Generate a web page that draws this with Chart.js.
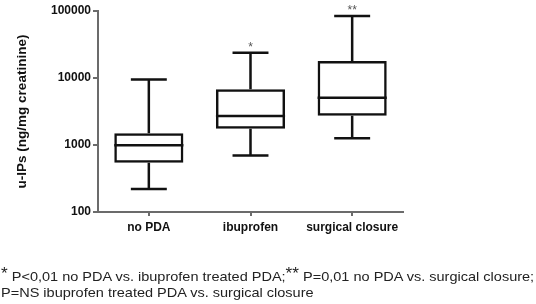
<!DOCTYPE html>
<html>
<head>
<meta charset="utf-8">
<script src="https://cdn.jsdelivr.net/npm/chart.js@4.4.1/dist/chart.umd.min.js"></script>
<style>
    body { margin: 0; background: #fff; }
    #wrap { position: relative; width: 536px; height: 304px; overflow: hidden; }
    #note {
        position: absolute; left: 1px; top: 268px; width: 540px;
        font-family: 'Liberation Sans', Arial, sans-serif; font-size: 13.5px;
        line-height: 16px; color: #222; white-space: nowrap;
        transform: scaleX(1.075); transform-origin: left top;
    }
    #note .star { font-size: 16px; position: relative; top: -2px; }
</style>
</head>
<body>
<div id="wrap">
    <canvas id="boxChart"></canvas>
    <div id="note"><span class="star">*</span> P&lt;0,01 no PDA vs. ibuprofen treated PDA;<span class="star">**</span> P=0,01 no PDA vs. surgical closure;<br>P=NS ibuprofen treated PDA vs. surgical closure</div>
</div>
<script>
const categories = ['no PDA', 'ibuprofen', 'surgical closure'];
const whiskerMin = [220, 700, 1260];
const q1Values = [545, 1750, 2740];
const medianValues = [990, 2710, 5080];
const q3Values = [1500, 6780, 17900];
const whiskerMax = [9500, 23900, 84000];
const significance = ['', '*', '**'];
const yTicks = [100, 1000, 10000, 100000];

const fontFamily = "'Liberation Sans', Arial, sans-serif";
const axisColor = '#6b6b6b';
const boxColor = '#111';

// whiskers, median and significance stars, drawn from the chart's own scales
const boxExtras = {
    id: 'boxExtras',
    afterDatasetsDraw(chart) {
        const { ctx, scales: { x, y } } = chart;
        const meta = chart.getDatasetMeta(0);
        ctx.save();
        ctx.strokeStyle = boxColor;
        ctx.lineWidth = 2.5;
        meta.data.forEach((bar, i) => {
            const cx = x.getPixelForValue(i);
            const half = bar.width / 2;
            const cap = bar.width * 0.26;
            const yMin = y.getPixelForValue(whiskerMin[i]);
            const yQ1 = y.getPixelForValue(q1Values[i]);
            const yMed = y.getPixelForValue(medianValues[i]);
            const yQ3 = y.getPixelForValue(q3Values[i]);
            const yMax = y.getPixelForValue(whiskerMax[i]);
            ctx.beginPath();
            ctx.moveTo(cx - half, yMed); ctx.lineTo(cx + half, yMed);
            ctx.moveTo(cx, yQ3); ctx.lineTo(cx, yMax);
            ctx.moveTo(cx - cap, yMax); ctx.lineTo(cx + cap, yMax);
            ctx.moveTo(cx, yQ1); ctx.lineTo(cx, yMin);
            ctx.moveTo(cx - cap, yMin); ctx.lineTo(cx + cap, yMin);
            ctx.stroke();
            if (significance[i]) {
                ctx.fillStyle = '#555';
                ctx.font = '12px ' + fontFamily;
                ctx.textAlign = 'center';
                ctx.textBaseline = 'alphabetic';
                ctx.fillText(significance[i], cx, yMax - 2);
            }
        });
        ctx.restore();
    }
};

new Chart(document.getElementById('boxChart'), {
    type: 'bar',
    data: {
        labels: categories,
        datasets: [{
            data: q1Values.map((q1, i) => [q1, q3Values[i]]),
            backgroundColor: 'rgba(255,255,255,0)',
            borderColor: boxColor,
            borderWidth: 2.5,
            borderSkipped: false,
            categoryPercentage: 1,
            barPercentage: 0.68
        }]
    },
    options: {
        responsive: true,
        maintainAspectRatio: false,
        animation: false,
        layout: { padding: { left: 0, right: 133, top: 11, bottom: 0 } },
        plugins: { legend: { display: false }, tooltip: { enabled: false } },
        scales: {
            x: {
                type: 'category',
                grid: { offset: false, drawOnChartArea: false, drawTicks: true, tickLength: 4, color: axisColor, lineWidth: 2 },
                border: { color: axisColor, width: 2 },
                ticks: { color: '#111', padding: 4, font: { family: fontFamily, size: 12, weight: 'bold' } },
                afterFit: s => { s.height = 92; }
            },
            y: {
                type: 'logarithmic',
                min: 100,
                max: 100000,
                afterBuildTicks: s => { s.ticks = yTicks.map(v => ({ value: v })); },
                grid: { drawOnChartArea: false, drawTicks: true, tickLength: 5, color: axisColor, lineWidth: 2 },
                border: { color: axisColor, width: 2 },
                ticks: {
                    color: '#111', padding: 2,
                    font: { family: fontFamily, size: 12, weight: 'bold' },
                    callback: v => String(v)
                },
                title: {
                    display: true,
                    text: 'u-IPs (ng/mg creatinine)',
                    color: '#111',
                    padding: { top: 14, bottom: 0 },
                    font: { family: fontFamily, size: 13.5, weight: 'bold' }
                },
                afterFit: s => { s.width = 98; }
            }
        }
    },
    plugins: [boxExtras]
});
</script>
</body>
</html>
